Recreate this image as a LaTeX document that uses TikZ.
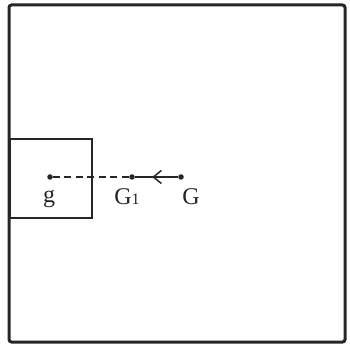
\documentclass[tikz,border=0pt]{standalone}
\usepackage{fontspec}
\setmainfont{Liberation Serif}
\usetikzlibrary{arrows.meta,decorations.markings}
\definecolor{ink}{HTML}{262626}
\begin{document}
\begin{tikzpicture}[x=1pt,y=-1pt,
  frame/.style={draw=ink,line width=3pt,rounded corners=2.5pt},
  box/.style={draw=ink,line width=2pt},
  pt/.style={circle,fill=ink,inner sep=0pt,minimum size=5.5pt},
  lbl/.style={font=\fontsize{24}{24}\selectfont,text=ink,inner sep=0pt},
  link/.style={draw=ink,line width=1.6pt},
  midarrow/.style={postaction={decorate},decoration={markings,
     mark=at position 0.6 with {\arrow{Straight Barb[length=8pt,width=13pt,line width=1.5pt]}}}}
  ]
\useasboundingbox (0,0) rectangle (350,347);
\draw[frame] (9,5) rectangle (345,342);
\draw[box] (10,139) rectangle (92,218);
\node[pt] (g) at (50,177) {};
\node[pt] (G1) at (132,177) {};
\node[pt] (G) at (181,177) {};
\draw[link,dash pattern=on 7pt off 4.5pt] (g) -- (G1);
\draw[link,midarrow] (G) -- (G1);
\node[lbl] (lg) at (49,199) {g};
\node[lbl] (lG1) at (127,197) {G\fontsize{16}{16}\selectfont 1};
\node[lbl] (lG) at (191,197) {G};
\end{tikzpicture}
\end{document}
